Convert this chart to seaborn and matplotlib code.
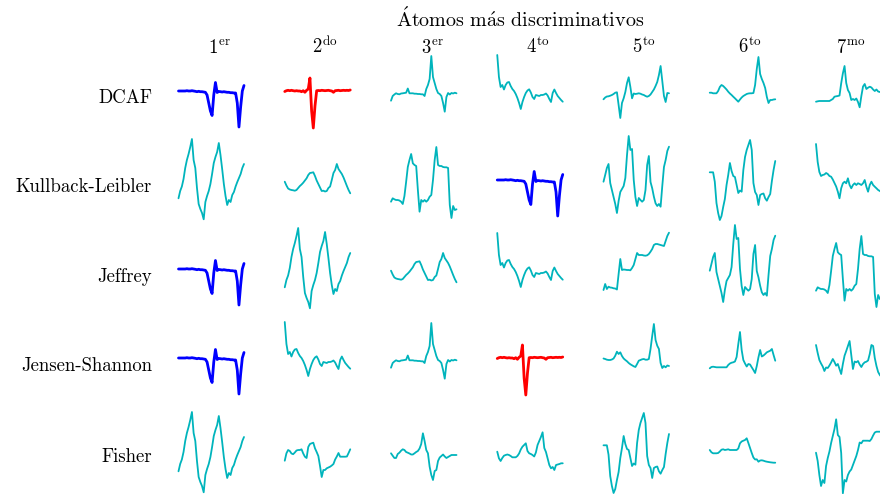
import matplotlib
matplotlib.use("Agg")
import matplotlib.pyplot as plt
import seaborn as sns
import numpy as np

# ---- texts ----
title_text = r"$\mathrm{\acute{A}tomos\ m\acute{a}s\ discriminativos}$"
row_labels = ["DCAF", "Kullback-Leibler", "Jeffrey", "Jensen-Shannon", "Fisher"]
rank_labels = [r"$1^{\mathrm{er}}$", r"$2^{\mathrm{do}}$", r"$3^{\mathrm{er}}$",
               r"$4^{\mathrm{to}}$", r"$5^{\mathrm{to}}$", r"$6^{\mathrm{to}}$",
               r"$7^{\mathrm{mo}}$"]

# ---- atoms (40 samples each) ----
atom_a = [0, 0, 0, 0, 0, 0.3, 0, 0, 0.3, 0, -0.3, -0.7, -0.3, -0.7, -0.7, -1, -1.3,
          -4, -12, -20, -24.5, -4, 8.5, -1.5, -0.5, -0.7, -1, -0.7, -1, -1.3, -1.3,
          -1.7, -1.7, -2, -2, -12, -36, -16, 0, 5.5]
atom_b = [-0.5, 0.3, 0.7, 0.3, 0.7, 0.3, 0, 0.3, 0, 0, -0.7, 0.3, -1.3, 0.7, 2, 13,
          -20, -37, -15, 0.3, 0.5, 0.3, 0.7, 0.5, 0.3, 0.5, 0.7, 0.3, 0, -1.3, 0.3,
          0.5, 0.7, 0.3, 0.5, 0.7, 0.5, 0.7, 0.5, 1]
atom_c = [-9.7, -5, -3.5, -2.3, -3, -3.3, -2.5, -2.3, -2, -1.7, 2.5, -2.3, -2.3,
          -2.3, -2.7, -2.7, -3, -3, -3.3, -3.3, -5, 2, 6, 12, 35, 14, 8, 2, -2, -3,
          -5, -12, -20.7, -6, -2, -3.5, -2, -2.5, -1.7, -2.3]
atom_d = [36, 14, 4, 6, 1.5, 6, 8.5, 9, 5, 2, 0, -3, -7, -12, -18, -11, -6, -2, 0.5,
          1.7, -1.5, -6, -8, -4, -4.5, -5, -4, -4, -3.5, -2.5, -4.5, -8, -11, -2, 1.5,
          -2, -5, -7, -9, -10.7]
atom_e = [-8.3, -6.5, -5.5, -5.3, -4.7, -4, -3, -1.7, -1.3, -14, -27, -12, -7.3, -1,
          8, 13.7, 4, -7.3, -2.5, -3, -2.7, -2.3, -2.7, -3.5, -4, -5, -5.7, -5, -3.5,
          -1, 1.5, 5, 9, 16, 25, 10, -5, -11, -2, -2.3]
atom_f = [-1.7, -1.7, -2.3, -2.3, -2.3, 0, 4, 6, 5, 3.3, 1.5, -0.7, -2.5, -4, -5.7,
          -7.3, -9, -10.7, -8.5, -6.5, -5, -4, -3, -2.5, -2.3, -2.3, -2, 6, 22, 34, 17,
          12, 8, 3, -6, -12, -9, -9, -8.5, -8.3]
atom_g = [-10.7, -10.3, -10, -10, -10, -10, -10, -10, -10, -9, -8, -5.7, -5.3, -5,
          -4.5, 7.7, 17.7, 25, 8, 1, -2, -9, -8, -9, -7.5, -11, -16.3, -5, 4.5, 7, 2,
          3.3, 4.3, 3.5, 1.5, 0, 1.5, -0.5, -1, -1]
atom_h = [-18.3, -11, -6.5, 1, 12, 20, 26, 33, 41, 20, 12, -8, -24, -29, -33, -39.3,
          -22, -16, -11, -4, 6, 17, 23, 28, 37, 25, 11, -4, -16, -25, -20, -22, -15,
          -12, -6.5, -2, 2, 6, 12, 16]
atom_i = [-1.7, -5.5, -8.5, -9.5, -10, -10.3, -10.7, -10, -8, -6, -4.5, -2.7, -0.5,
          1.7, 5, 7, 7.3, 7.7, 4, -0.5, -4, -7.5, -11, -10.7, -11.5, -11, -8, -6.5, 0,
          7, 10, 16, 11, 8.5, 6, 2.5, -1.7, -6, -10, -13.3]
atom_j = [-21.7, -18.3, -19.3, -20, -20, -20.5, -21.7, -24, -16, -2, 13, 20, 26, 16.7,
          15, 14, -10, -31.7, -20, -21.7, -20, -21.7, -20, -16.7, -15, 0, 20, 33, 15,
          14, 14, 13, 12.7, 12.7, 12, -25, -38, -26, -30, -29.3]
atom_k = [-1.7, 5, 12, 16, -3, -10, -17, -24, -33, -21, -12, -9, -6, 2, 25, 44, 30,
          31, 0, -17, -26, -18, -20, -21.7, -20, -10, 15, 24, -2, -8.3, -16.7, -23.3,
          -26, -24, -26.7, -6, 13, 20, 29, 33.3]
atom_l = [7.7, 7.7, 7.7, -1.7, -23, -33, -40, -36, -27, -19, -5, 5, 17, 9, 4, 3, -5,
          -13, -10.5, -11.7, 10, 23, 30, 35, 40, 30, -3, -12, -15, -25, -15, -14,
          -13.5, -18.3, -20.7, -17, -14, -1, 10, 19]
atom_m = [36, 18, 8, 4, 5, 5.5, 7, 6, 4, 3.3, 0.5, -3, -6.5, -11.7, -18.3, -8.3,
          -3.3, -1.7, -3.3, 1.7, -5, -8.3, -5, -3.3, -5, -3.3, -4, -5, -3.3, 0, -6.7,
          -11.7, -5, -1.7, -5, -6.7, -8.3, -10, -11, -12]
atom_n = [-21, -15, -20, -17.7, -18.5, -18.7, -19.3, -19.5, -20.5, -5, 10, -1, -0.5,
          -0.7, -1, -1, -1.3, 1, 4, 10, 16, 14, 14, 14, 13.5, 13.3, 13.7, 15, 17.3, 20,
          24, 25, 25, 24.5, 24, 23.5, 23, 28, 33, 36.3]
atom_o = [-0.5, -1, -1.7, -2, -2, -1.5, -0.5, 2.3, 6.3, 4, 5.7, 2, -0.5, -2, -3.3,
          -5, -6.3, -7.3, -8.3, -9, -6, -2.7, -2, -1.3, -1, -1.7, -1.7, -1, 9, 22, 34,
          18, 12.3, 9, -5, -10, -8, -9.3, -7.5, -8]
atom_p = [-10.3, -9, -8.7, -9, -9.3, -9.3, -9.3, -9.3, -9.3, -9.3, -9.3, -7, -5.5,
          -4.7, -4.3, -3.5, 1, 14, 26, 8, -2, -5.5, -8.5, -6, -6.5, -9.3, -12, -15, -8,
          0.7, 8, 1.5, 2.5, 4, 5.7, 6.5, 7.3, 9, 3, -2.7]
atom_q = [13, 5, -2, -5.5, -8.5, -13, -9.5, -10, -7.5, -4.5, -1, -4, -7.7, -6, -11,
          -16, -6, 2.3, 7, 12, 17, 3, -11, -3.5, -4.3, -3, -6.5, -9, -6, -4.3, -3.7,
          -2.5, 4, 13, 12, 0, -8, -14, -17, -19]
atom_r = [-7.7, -0.3, 3, 2, -0.5, -1.2, 0.5, 2.5, 3, 3, 3.7, -0.5, -3.7, -5, 6, 9,
          9.7, 10.3, 4.7, 1, -3, -13, -24, -17, -17, -15.3, -14.5, -13.7, -12.5, -11,
          -6.5, -3.5, 0, -3.7, -3.7, -3.7, -3.7, -3.5, 0, 3.7]
atom_s = [-0.3, -2.7, -5, -5, -1, 0.3, 2.3, 3.7, 3, 1, 0.3, -0.5, -1.5, -1.5, -0.3,
          1, 2, 4.5, 9, 19.7, 12, 3, -0.3, -13.7, -22, -27, -18, -17, -8, -4.5, -3,
          -1.5, -3.5, -5, -4, -3, -2, -2, -2, -2]
atom_t = [1.3, -5.3, -8, -5, -2.7, -2, -1.5, -2, -3, -4.3, -4.3, -4.3, -3, -0.5, 3.5,
          6.3, 8, 9.7, 2, -0.3, -1, -2, -3.5, 0.5, 8, 12, 16, 20.7, 5, 1, -5.5, -12,
          -15.3, -14, -17, -12, -11.5, -11, -10.3, -10.3]
atom_u = [3, 0.7, -0.3, -0.3, -0.3, 0, 1.5, 3.3, 3.7, 3, 3.3, 3.7, 3, 3, 3, 3, 3,
          4.5, 9.7, 11.5, 12.3, 13, 14.7, 10, 5, 0, -4.5, -6.5, -6.3, -8.7, -7.5, -7.3,
          -7.7, -8.3, -8.7, -9, -9.3, -9.5, -9.7, -9.7]
atom_v = [0.3, -8, -22, -33, -27, -30, -13, -5, 1.5, 10, 17, 24, 33.7, 18, 16, 0,
          -40.3, -27, -28.5, -22, -18.5, -16.5, -12, -7.5, -3, 3, 10.5, 9.7, 12.3,
          12.3, 12.3, 12.3, 12, 14, 17.5, 20.5, 21.3, 21.3, 21.3, 21.3]

atoms = {"a": atom_a, "b": atom_b, "c": atom_c, "d": atom_d, "e": atom_e,
         "f": atom_f, "g": atom_g, "h": atom_h, "i": atom_i, "j": atom_j,
         "k": atom_k, "l": atom_l, "m": atom_m, "n": atom_n, "o": atom_o,
         "p": atom_p, "q": atom_q, "r": atom_r, "s": atom_s, "t": atom_t,
         "u": atom_u, "v": atom_v}

# which atom sits in each cell, and how it is highlighted
panel_atoms = [
    ["a", "b", "c", "d", "e", "f", "g"],
    ["h", "i", "j", "a", "k", "l", "m"],
    ["a", "h", "i", "d", "n", "k", "j"],
    ["a", "d", "c", "b", "o", "p", "q"],
    ["h", "r", "s", "t", "l", "u", "v"],
]
panel_marks = [
    ["blue", "red", "-", "-", "-", "-", "-"],
    ["-", "-", "-", "blue", "-", "-", "-"],
    ["blue", "-", "-", "-", "-", "-", "-"],
    ["blue", "-", "-", "red", "-", "-", "-"],
    ["-", "-", "-", "-", "-", "-", "-"],
]
styles = {"blue": ("#0000ff", 2.0), "red": ("#ff0000", 2.0), "-": ("#00b4bc", 1.3)}

# ---- layout (pixels) ----
W, H = 880, 494
col_left, col_step, panel_w = 178.5, 106.25, 65.5
row_zero = [91, 180, 269, 358, 453]
half = 50

sns.set_theme(style="white")
plt.rcParams["font.family"] = ["cmr10", "DejaVu Serif"]
plt.rcParams["mathtext.fontset"] = "cm"
plt.rcParams["axes.formatter.use_mathtext"] = True
plt.rcParams["text.color"] = "black"

fig = plt.figure(figsize=(W / 100, H / 100), dpi=100, facecolor="white")

for r, zero in enumerate(row_zero):
    for c in range(7):
        left = col_left + c * col_step
        ax = fig.add_axes([left / W, 1 - (zero + half) / H, panel_w / W, 2 * half / H])
        vals = atoms[panel_atoms[r][c]]
        color, lw = styles[panel_marks[r][c]]
        sns.lineplot(x=np.arange(len(vals)), y=vals, ax=ax, color=color,
                     linewidth=lw, clip_on=False)
        ax.set_xlim(0, len(vals) - 1)
        ax.set_ylim(-half, half)
        ax.axis("off")

fs = 13.5
label_base = [102.7, 191.7, 281.7, 370.7, 461.7]
for lab, yb in zip(row_labels, label_base):
    fig.text(152 / W, 1 - yb / H, lab, ha="right", va="baseline", fontsize=fs)

rank_x = [219, 325, 432, 538, 644, 750, 851]
for lab, xc in zip(rank_labels, rank_x):
    fig.text(xc / W, 1 - 53 / H, lab, ha="center", va="baseline", fontsize=fs)

fig.text(520 / W, 1 - 27 / H, title_text, ha="center", va="baseline", fontsize=14.5)

fig.savefig("out.png", dpi=100, facecolor="white")
